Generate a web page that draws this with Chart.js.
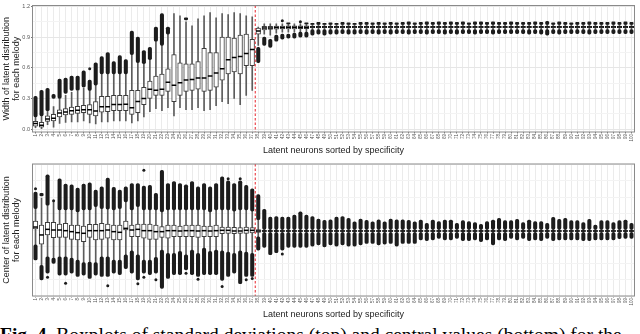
<!DOCTYPE html>
<html>
<head>
<meta charset="utf-8">
<script src="https://cdn.jsdelivr.net/npm/chart.js@4.4.0/dist/chart.umd.min.js"></script>
<style>
  body { margin: 0; background: #fff; width: 640px; height: 334px; overflow: hidden; position: relative; }
  #top { position: absolute; left: 0; top: 0; }
  #bot { position: absolute; left: 0; top: 158px; }
  #cap { position: absolute; left: 0; top: 325px; width: 660px; white-space: nowrap;
         font: 19.5px/20px "Liberation Serif", "Times New Roman", serif; color: #000; }
</style>
</head>
<body>
<canvas id="top" width="640" height="158"></canvas>
<canvas id="bot" width="640" height="164"></canvas>
<div id="cap"><b>Fig. 4.</b> Boxplots of standard deviations (top) and central values (bottom) for the</div>
<script>
// latent neurons 1..100, sorted by specificity
var cats = ['1','2','3','4','5','6','7','8','9','10','11','12','13','14','15','16','17','18','19','20',
  '21','22','23','24','25','26','27','28','29','30','31','32','33','34','35','36','37','38','39','40',
  '41','42','43','44','45','46','47','48','49','50','51','52','53','54','55','56','57','58','59','60',
  '61','62','63','64','65','66','67','68','69','70','71','72','73','74','75','76','77','78','79','80',
  '81','82','83','84','85','86','87','88','89','90','91','92','93','94','95','96','97','98','99','100'];
var splitAfter = 37; // dashed line between 37 and 38

// ---- top panel: width of latent distribution ----
var topQ1 = [0.03,0.02,0.076,0.08,0.12,0.14,0.145,0.155,0.16,0.145,
  0.13,0.167,0.17,0.18,0.18,0.18,0.145,0.16,0.24,0.30,
  0.33,0.33,0.37,0.27,0.33,0.37,0.38,0.39,0.37,0.38,
  0.41,0.48,0.54,0.56,0.54,0.62,0.62,0.93,0.972,0.975,
  0.978,0.98,0.982,0.982,0.984,0.984,0.992,0.992,0.992,0.992,
  0.992,0.992,0.992,0.992,0.992,0.992,0.992,0.992,0.992,0.992,
  0.992,0.992,0.992,0.992,0.992,0.992,0.992,0.992,0.992,0.992,
  0.992,0.992,0.992,0.992,0.992,0.992,0.992,0.992,0.992,0.992,
  0.992,0.992,0.992,0.992,0.992,0.992,0.992,0.992,0.992,0.992,
  0.992,0.992,0.992,0.992,0.992,0.992,0.992,0.992,0.992,0.992];
var topMed = [0.054,0.038,0.10,0.107,0.158,0.167,0.18,0.186,0.19,0.19,
  0.177,0.22,0.22,0.24,0.24,0.243,0.21,0.27,0.30,0.39,
  0.38,0.39,0.46,0.43,0.455,0.48,0.485,0.50,0.50,0.52,
  0.55,0.59,0.68,0.70,0.71,0.74,0.78,0.96,0.99,0.99,
  0.995,0.995,0.996,0.996,0.997,0.997,0.999,0.999,0.999,0.999,
  0.999,0.999,0.999,0.999,0.999,0.999,0.999,0.999,0.999,0.999,
  0.999,0.999,0.999,0.999,0.999,0.999,0.999,0.999,0.999,0.999,
  0.999,0.999,0.999,0.999,0.999,0.999,0.999,0.999,0.999,0.999,
  0.999,0.999,0.999,0.999,0.999,0.999,0.999,0.999,0.999,0.999,
  0.999,0.999,0.999,0.999,0.999,0.999,0.999,0.999,0.999,0.999];
var topQ3 = [0.076,0.066,0.13,0.145,0.19,0.20,0.215,0.224,0.234,0.24,
  0.27,0.32,0.32,0.33,0.33,0.33,0.38,0.38,0.41,0.47,
  0.52,0.54,0.59,0.73,0.65,0.64,0.64,0.66,0.79,0.75,
  0.75,0.90,0.90,0.89,0.92,0.93,0.88,0.99,1.005,1.005,
  1.008,1.008,1.01,1.01,1.01,1.01,1.006,1.006,1.006,1.006,
  1.006,1.006,1.006,1.006,1.006,1.006,1.006,1.006,1.006,1.006,
  1.006,1.006,1.006,1.006,1.006,1.006,1.006,1.006,1.006,1.006,
  1.006,1.006,1.006,1.006,1.006,1.006,1.006,1.006,1.006,1.006,
  1.006,1.006,1.006,1.006,1.006,1.006,1.006,1.006,1.006,1.006,
  1.006,1.006,1.006,1.006,1.006,1.006,1.006,1.006,1.006,1.006];
var topWLo = [0.015,0.005,0.044,0.02,0.057,0.066,0.07,0.07,0.08,0.06,
  0.05,0.07,0.07,0.08,0.08,0.08,0.06,0.08,0.12,0.17,
  0.20,0.18,0.21,0.13,0.21,0.19,0.19,0.21,0.18,0.19,
  0.23,0.27,0.25,0.30,0.24,0.33,0.38,0.82,0.93,0.92,
  0.94,0.95,0.95,0.95,0.955,0.955,0.975,0.975,0.975,0.975,
  0.975,0.975,0.975,0.975,0.975,0.975,0.975,0.975,0.975,0.975,
  0.975,0.975,0.975,0.975,0.975,0.975,0.975,0.975,0.975,0.975,
  0.975,0.975,0.975,0.975,0.975,0.975,0.975,0.975,0.975,0.975,
  0.975,0.975,0.975,0.975,0.975,0.975,0.975,0.975,0.975,0.975,
  0.975,0.975,0.975,0.975,0.975,0.975,0.975,0.975,0.975,0.975];
var topWHi = [0.12,0.13,0.18,0.22,0.30,0.33,0.36,0.37,0.40,0.38,
  0.43,0.54,0.54,0.54,0.54,0.54,0.73,0.65,0.64,0.68,
  0.86,0.82,0.93,1.13,1.11,1.05,1.01,1.08,1.11,1.14,
  1.09,1.13,1.12,1.14,1.13,1.11,1.10,1.0,1.03,1.03,
  1.03,1.03,1.03,1.03,1.03,1.03,1.025,1.025,1.025,1.025,
  1.025,1.025,1.025,1.025,1.025,1.025,1.025,1.025,1.025,1.025,
  1.025,1.025,1.025,1.025,1.025,1.025,1.025,1.025,1.025,1.025,
  1.025,1.025,1.025,1.025,1.025,1.025,1.025,1.025,1.025,1.025,
  1.025,1.025,1.025,1.025,1.025,1.025,1.025,1.025,1.025,1.025,
  1.025,1.025,1.025,1.025,1.025,1.025,1.025,1.025,1.025,1.025];
var topUp = [[0.12,0.32],[0.13,0.38],[0.18,0.40],[0.30,0.34],[0.30,0.49],[0.35,0.50],[0.38,0.52],[0.38,0.52],[0.41,0.57],[0.38,0.48],
  [0.43,0.65],[0.54,0.71],[0.54,0.75],[0.54,0.66],[0.54,0.72],[0.54,0.68],[0.73,0.96],[0.65,0.90],[0.64,0.77],[0.68,0.80],
  [0.86,1.0],[0.82,1.13],[0.93,1.0],null,null,[1.07,1.09],null,null,null,null,
  null,null,null,null,null,null,null,null,null,null,
  null,null,[1.03,1.04],null,null,[1.03,1.04],[1.025,1.035],[1.025,1.045],[1.025,1.035],[1.025,1.04],
  [1.025,1.035],[1.025,1.045],[1.025,1.04],[1.025,1.035],[1.025,1.045],[1.025,1.045],[1.025,1.04],[1.025,1.045],[1.025,1.04],[1.025,1.045],
  [1.025,1.04],[1.025,1.045],[1.025,1.05],[1.025,1.04],[1.025,1.045],[1.025,1.05],[1.025,1.045],[1.025,1.05],[1.025,1.045],[1.025,1.05],
  [1.025,1.045],[1.025,1.05],[1.025,1.04],[1.025,1.05],[1.025,1.05],[1.025,1.045],[1.025,1.05],[1.025,1.045],[1.025,1.045],[1.025,1.05],
  [1.025,1.045],[1.025,1.045],[1.025,1.045],[1.025,1.05],[1.025,1.045],[1.025,1.055],[1.025,1.04],[1.025,1.05],[1.025,1.045],[1.025,1.04],
  [1.025,1.045],[1.025,1.045],[1.025,1.05],[1.025,1.045],[1.025,1.045],[1.025,1.045],[1.025,1.05],[1.025,1.045],[1.025,1.05],[1.025,1.045]];
var topLow = [null,null,null,null,null,null,null,null,null,null,
  null,null,null,null,null,null,null,null,null,null,
  null,null,null,null,null,null,null,null,null,null,
  null,null,null,null,null,null,null,[0.65,0.80],[0.82,0.90],[0.80,0.88],
  [0.86,0.92],[0.88,0.93],[0.89,0.93],[0.89,0.94],[0.90,0.95],[0.90,0.95],[0.92,0.975],[0.93,0.975],[0.92,0.975],[0.93,0.975],
  [0.93,0.975],[0.935,0.975],[0.93,0.975],[0.93,0.975],[0.935,0.975],[0.93,0.975],[0.935,0.975],[0.93,0.975],[0.935,0.975],[0.93,0.975],
  [0.935,0.975],[0.935,0.975],[0.93,0.975],[0.935,0.975],[0.935,0.975],[0.93,0.975],[0.935,0.975],[0.935,0.975],[0.93,0.975],[0.935,0.975],
  [0.93,0.975],[0.935,0.975],[0.935,0.975],[0.93,0.975],[0.935,0.975],[0.935,0.975],[0.93,0.975],[0.935,0.975],[0.935,0.975],[0.935,0.975],
  [0.935,0.975],[0.935,0.975],[0.93,0.975],[0.935,0.975],[0.93,0.975],[0.92,0.975],[0.935,0.975],[0.93,0.975],[0.935,0.975],[0.935,0.975],
  [0.935,0.975],[0.935,0.975],[0.93,0.975],[0.935,0.975],[0.935,0.975],[0.935,0.975],[0.935,0.975],[0.935,0.975],[0.935,0.975],[0.935,0.975]];
var topDots = [['10',0.59],['42',1.06],['45',1.05]];
var topTicks = [0, 0.3, 0.6, 0.9, 1.2];

// ---- bottom panel: center of latent distribution ----
var botQ1 = [0.3,-2.0,-0.6,-1.0,-0.96,-0.96,-1.26,-1.36,-1.6,-0.96,
  -1.36,-1.26,-1.1,-1.36,-1.36,0.15,-0.86,-0.86,-1.1,-1.26,
  -1.26,-0.96,-1.1,-0.86,-0.86,-0.86,-0.86,-0.96,-0.86,-0.86,
  -0.86,-0.4,-0.35,-0.4,-0.35,-0.35,-0.3,-0.2,-0.08,-0.08,
  -0.08,-0.08,-0.08,-0.08,-0.08,-0.08,-0.08,-0.08,-0.08,-0.08,
  -0.08,-0.08,-0.08,-0.08,-0.08,-0.08,-0.08,-0.08,-0.08,-0.08,
  -0.08,-0.08,-0.08,-0.08,-0.08,-0.08,-0.08,-0.08,-0.08,-0.08,
  -0.08,-0.08,-0.08,-0.08,-0.08,-0.08,-0.08,-0.08,-0.08,-0.08,
  -0.08,-0.08,-0.08,-0.08,-0.08,-0.08,-0.08,-0.08,-0.08,-0.08,
  -0.08,-0.08,-0.08,-0.08,-0.08,-0.08,-0.08,-0.08,-0.08,-0.08];
var botMed = [0.6,-0.6,0.25,0.15,0.15,0.05,-0.1,-0.25,-0.35,0.05,
  0.05,0.05,0.15,-0.1,-0.2,0.4,0.15,0.25,0.05,0.05,
  -0.1,-0.1,0.05,0.05,0.0,0.05,0.05,0.0,0.05,0.0,
  0.05,0.1,0.1,0.0,0.0,0.1,0.1,0,0,0,
  0,0,0,0,0,0,0,0,0,0,
  0,0,0,0,0,0,0,0,0,0,
  0,0,0,0,0,0,0,0,0,0,
  0,0,0,0,0,0,0,0,0,0,
  0,0,0,0,0,0,0,0,0,0,
  0,0,0,0,0,0,0,0,0,0];
var botQ3 = [1.5,0.9,1.3,1.3,1.06,1.16,0.9,0.9,0.76,1.0,
  1.0,1.16,1.06,0.9,0.9,1.5,0.9,1.06,1.06,1.06,
  0.9,0.65,0.9,0.9,0.76,0.9,0.9,0.9,0.76,0.76,
  0.9,0.6,0.6,0.55,0.5,0.6,0.5,0.2,0.08,0.08,
  0.08,0.08,0.08,0.08,0.08,0.08,0.08,0.08,0.08,0.08,
  0.08,0.08,0.08,0.08,0.08,0.08,0.08,0.08,0.08,0.08,
  0.08,0.08,0.08,0.08,0.08,0.08,0.08,0.08,0.08,0.08,
  0.08,0.08,0.08,0.08,0.08,0.08,0.08,0.08,0.08,0.08,
  0.08,0.08,0.08,0.08,0.08,0.08,0.08,0.08,0.08,0.08,
  0.08,0.08,0.08,0.08,0.08,0.08,0.08,0.08,0.08,0.08];
var botWLo = [-2.1,-5.2,-3.9,-4.1,-3.9,-3.9,-4.1,-4.4,-4.8,-4.7,
  -4.8,-3.9,-3.9,-4.4,-4.4,-3.6,-3.0,-3.6,-4.4,-4.4,
  -4.0,-2.9,-3.4,-3.4,-3.1,-3.6,-2.9,-3.4,-2.6,-3.1,
  -2.9,-3.0,-3.2,-3.4,-3.0,-3.2,-3.4,-0.9,-0.25,-0.25,
  -0.25,-0.25,-0.25,-0.25,-0.25,-0.25,-0.25,-0.25,-0.25,-0.25,
  -0.25,-0.25,-0.25,-0.25,-0.25,-0.25,-0.25,-0.25,-0.25,-0.25,
  -0.25,-0.25,-0.25,-0.25,-0.25,-0.25,-0.25,-0.25,-0.25,-0.25,
  -0.25,-0.25,-0.25,-0.25,-0.25,-0.25,-0.25,-0.25,-0.25,-0.25,
  -0.25,-0.25,-0.25,-0.25,-0.25,-0.25,-0.25,-0.25,-0.25,-0.25,
  -0.25,-0.25,-0.25,-0.25,-0.25,-0.25,-0.25,-0.25,-0.25,-0.25];
var botWHi = [3.4,5.0,3.9,4.4,3.2,3.2,3.2,2.9,3.2,3.2,
  3.7,3.4,3.3,3.2,3.4,4.4,3.2,3.7,3.2,3.2,
  3.2,2.9,3.2,3.2,3.2,3.2,3.2,3.2,3.2,2.9,
  3.2,3.2,3.2,3.0,3.2,3.2,3.0,1.7,0.25,0.25,
  0.25,0.25,0.25,0.25,0.25,0.25,0.25,0.25,0.25,0.25,
  0.25,0.25,0.25,0.25,0.25,0.25,0.25,0.25,0.25,0.25,
  0.25,0.25,0.25,0.25,0.25,0.25,0.25,0.25,0.25,0.25,
  0.25,0.25,0.25,0.25,0.25,0.25,0.25,0.25,0.25,0.25,
  0.25,0.25,0.25,0.25,0.25,0.25,0.25,0.25,0.25,0.25,
  0.25,0.25,0.25,0.25,0.25,0.25,0.25,0.25,0.25,0.25];
var botUp = [[3.4,5.9],[5.3,5.7],[3.9,8.5],null,[3.2,7.9],[3.2,7.1],[3.2,7.0],[2.9,6.5],[3.2,7.1],[3.2,7.3],
  [3.7,6.2],[3.4,6.7],[3.3,8.0],[3.2,6.6],[3.4,6.2],[4.4,6.7],[3.2,7.2],[3.7,7.2],[3.2,6.8],[3.2,6.9],
  [3.2,5.7],[2.9,9.2],[3.2,7.2],[3.2,7.5],[3.2,7.2],[3.2,7.0],[3.2,7.5],[3.2,6.7],[3.2,7.2],[2.9,6.7],
  [3.2,7.2],[3.2,8.2],[3.2,7.6],[3.0,7.2],[3.2,7.6],[3.2,6.9],[3.0,6.4],[1.7,5.5],[0.25,3.3],[0.25,2.1],
  [0.25,2.2],[0.25,2.1],[0.25,2.1],[0.25,2.4],[0.25,2.9],[0.25,2.4],[0.25,2.2],[0.25,1.8],[0.25,1.6],[0.25,1.7],
  [0.25,2.1],[0.25,2.2],[0.25,1.9],[0.25,1.4],[0.25,1.8],[0.25,1.6],[0.25,1.4],[0.25,1.7],[0.25,1.4],[0.25,1.8],
  [0.25,1.7],[0.25,1.7],[0.25,1.6],[0.25,1.4],[0.25,1.67],[0.25,1.16],[0.25,1.67],[0.25,1.41],[0.25,1.67],[0.25,1.67],
  [0.25,1.16],[0.25,1.57],[0.25,1.41],[0.25,1.26],[0.25,1.01],[0.25,1.41],[0.25,1.67],[0.25,1.92],[0.25,1.57],[0.25,1.57],
  [0.25,1.77],[0.25,1.26],[0.25,1.67],[0.25,1.41],[0.25,1.41],[0.25,1.16],[0.25,2.07],[0.25,1.77],[0.25,1.92],[0.25,1.57],
  [0.25,1.57],[0.25,1.26],[0.25,1.77],[0.25,0.91],[0.25,1.57],[0.25,1.57],[0.25,1.26],[0.25,1.57],[0.25,1.67],[0.25,1.16]];
var botLow = [[-4.4,-2.1],[-7.4,-5.2],[-6.4,-3.9],[-4.9,-4.1],[-6.7,-3.9],[-6.7,-3.9],[-6.4,-4.1],[-6.9,-4.4],[-6.7,-4.8],[-7.2,-4.7],
  [-6.7,-4.8],[-6.9,-3.9],[-6.9,-3.9],[-6.4,-4.4],[-6.6,-4.4],[-5.7,-3.6],[-6.4,-3.0],[-7.4,-3.6],[-6.4,-4.4],[-6.6,-4.4],
  [-6.4,-4.0],[-8.7,-2.9],[-7.2,-3.4],[-6.6,-3.4],[-6.6,-3.1],[-5.9,-3.6],[-6.6,-2.9],[-6.9,-3.4],[-6.6,-2.6],[-6.6,-3.1],
  [-6.6,-2.9],[-7.5,-3.0],[-6.9,-3.2],[-6.4,-3.4],[-8.0,-3.0],[-6.9,-3.2],[-6.9,-3.4],[-2.9,-0.9],[-2.5,-0.25],[-3.6,-0.25],
  [-3.3,-0.25],[-2.9,-0.25],[-2.5,-0.25],[-2.5,-0.25],[-2.5,-0.25],[-2.5,-0.25],[-2.3,-0.25],[-2.1,-0.25],[-2.4,-0.25],[-2.1,-0.25],
  [-2.3,-0.25],[-2.1,-0.25],[-2.3,-0.25],[-2.3,-0.25],[-2.1,-0.25],[-1.9,-0.25],[-1.9,-0.25],[-2.1,-0.25],[-2.0,-0.25],[-1.9,-0.25],
  [-2.3,-0.25],[-1.9,-0.25],[-1.9,-0.25],[-1.9,-0.25],[-1.36,-0.25],[-1.46,-0.25],[-1.36,-0.25],[-1.11,-0.25],[-1.36,-0.25],[-1.36,-0.25],
  [-1.11,-0.25],[-1.46,-0.25],[-1.46,-0.25],[-1.36,-0.25],[-1.62,-0.25],[-1.36,-0.25],[-2.12,-0.25],[-1.36,-0.25],[-1.46,-0.25],[-1.11,-0.25],
  [-1.36,-0.25],[-1.11,-0.25],[-1.46,-0.25],[-1.36,-0.25],[-1.46,-0.25],[-1.11,-0.25],[-1.46,-0.25],[-1.36,-0.25],[-1.36,-0.25],[-1.36,-0.25],
  [-1.36,-0.25],[-1.46,-0.25],[-1.46,-0.25],[-1.36,-0.25],[-1.36,-0.25],[-1.36,-0.25],[-1.36,-0.25],[-1.16,-0.25],[-1.11,-0.25],[-1.11,-0.25]];
var botDots = [['1',6.4],['3',-7.0],['4',4.6],['6',-7.9],['13',-8.3],['18',-8.0],['19',9.2],['19',-7.0],
  ['21',-7.4],['26',-6.4],['28',-7.3],['32',-8.4],['33',7.9],['35',7.9],['36',-7.4],['37',-7.2],['42',-3.5]];
var botTicks = [-5, 0, 5];

Chart.defaults.font.family = '"Liberation Sans", Arial, Helvetica, sans-serif';
Chart.defaults.animation = false;

var boxDatasets = (q1, med, q3, wlo, whi, up, low, dots) => {
  let dark = '#1c1c1c';
  return [
    { type: 'bar', data: wlo.map((v, i) => [v, whi[i]]), backgroundColor: '#5c5c5c',
      barThickness: 1, grouped: false, order: 4 },
    { type: 'bar', data: up, backgroundColor: dark, barThickness: 3.4, borderRadius: 1.7,
      borderSkipped: false, grouped: false, order: 3 },
    { type: 'bar', data: low, backgroundColor: dark, barThickness: 3.4, borderRadius: 1.7,
      borderSkipped: false, grouped: false, order: 3 },
    { type: 'bar', data: q1.map((v, i) => [v, q3[i]]), backgroundColor: '#fff', borderColor: '#3c3c3c',
      borderWidth: 1, borderSkipped: false, barThickness: 4.6, grouped: false, order: 2 },
    { type: 'line', data: med, showLine: false, pointStyle: 'line', pointRadius: 2.3,
      pointBorderWidth: 1.5, pointBorderColor: '#000', order: 1 },
    { type: 'line', data: dots.map(d => ({ x: d[0], y: d[1] })), showLine: false, pointRadius: 1.5,
      pointBackgroundColor: dark, pointBorderWidth: 0, order: 0 }
  ];
};

var panelPlugin = {
  id: 'panel',
  afterDatasetsDraw(chart) {
    let ctx = chart.ctx, a = chart.chartArea, x = chart.scales.x;
    let xs = (x.getPixelForValue(splitAfter - 1) + x.getPixelForValue(splitAfter)) / 2;
    ctx.save();
    ctx.strokeStyle = '#e8222b';
    ctx.lineWidth = 1;
    ctx.setLineDash([2.5, 2]);
    ctx.beginPath();
    ctx.moveTo(xs, a.top);
    ctx.lineTo(xs, a.bottom);
    ctx.stroke();
    ctx.setLineDash([]);
    ctx.strokeStyle = '#8a8a8a';
    ctx.strokeRect(a.left, a.top, a.width, a.height);
    ctx.restore();
  }
};

var isMajor = (v, list) => list.some(t => Math.abs(t - v) < 1e-6);

var makeChart = (id, datasets, yMin, yMax, step, major, fmt, yTitle, padTop) => {
  return new Chart(document.getElementById(id), {
    type: 'bar',
    data: { labels: cats, datasets: datasets },
    plugins: [panelPlugin],
    options: {
      responsive: false,
      devicePixelRatio: 1,
      layout: { padding: { top: padTop, right: 4, left: 0, bottom: 0 } },
      plugins: { legend: { display: false }, tooltip: { enabled: false } },
      scales: {
        x: {
          type: 'category',
          offset: true,
          afterFit: s => { s.height = 26; },
          grid: { offset: false, color: '#ebebeb', lineWidth: 1, tickLength: 1.5, tickColor: '#777' },
          border: { display: false },
          ticks: { autoSkip: false, minRotation: 90, maxRotation: 90, padding: 0.5,
                   font: { size: 4.5 }, color: '#555' },
          title: { display: true, text: 'Latent neurons sorted by specificity', color: '#222',
                   font: { size: 9 }, padding: { top: 0, bottom: 2 } }
        },
        y: {
          min: yMin, max: yMax,
          afterFit: s => { s.width = 32.5; },
          grid: {
            color: c => isMajor(c.tick.value, major) ? '#e6e6e6' : '#f3f3f3',
            tickColor: c => isMajor(c.tick.value, major) ? '#777' : 'rgba(0,0,0,0)',
            tickLength: 1.5
          },
          border: { display: false },
          ticks: { stepSize: step, includeBounds: false, padding: 1, font: { size: 5.5 }, color: '#555',
                   callback: v => isMajor(v, major) ? fmt(v) : '' },
          title: { display: true, text: yTitle, color: '#222', font: { size: 9, lineHeight: 1.12 },
                   padding: { top: 1, bottom: 1 } }
        }
      }
    }
  });
};

makeChart('top', boxDatasets(topQ1, topMed, topQ3, topWLo, topWHi, topUp, topLow, topDots),
  -0.028, 1.21, 0.15, topTicks, v => v.toFixed(1),
  ['Width of latent distribution', 'for each melody'], 1);

makeChart('bot', boxDatasets(botQ1, botMed, botQ3, botWLo, botWHi, botUp, botLow, botDots),
  -9.85, 10.15, 2.5, botTicks, v => String(v),
  ['Center of latent distribution', 'for each melody'], 6);
</script>
</body>
</html>
